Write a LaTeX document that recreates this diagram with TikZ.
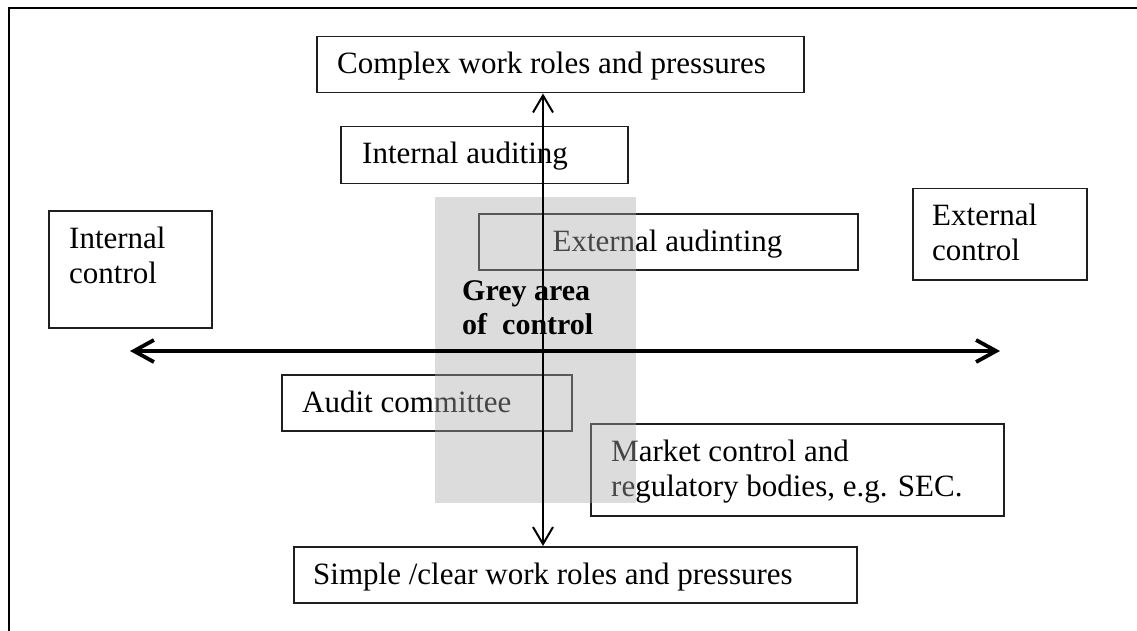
\documentclass[tikz,border=0pt]{standalone}
\usepackage{fontspec}
\setmainfont{Liberation Serif}
\usetikzlibrary{arrows.meta,calc}
\begin{document}
\begin{tikzpicture}[x=1pt,y=-1pt,
  box/.style={draw=black!88,line width=1.5pt,inner sep=0pt,anchor=north west},
  lbl/.style={inner sep=0pt,anchor=base west,align=left,
    font=\fontsize{31}{34.5}\selectfont},
  boldlbl/.style={lbl,font=\fontsize{30}{34}\selectfont\bfseries},
  greyzone/.style={fill=black!33,opacity=0.41},
  frameline/.style={line width=2.2pt},
  haxis/.style={line width=3.8pt,
    {Straight Barb[length=20pt,width=22pt]}-{Straight Barb[length=20pt,width=22pt]}},
  vaxis/.style={line width=2pt,
    {Straight Barb[length=17pt,width=20pt]}-{Straight Barb[length=17pt,width=20pt]}},
]
\useasboundingbox (0,0) rectangle (1137,631);

% page frame (top and left edges)
\draw[frameline] (9,631) -- (9,8) -- (1137,8);

% boxes
\node[box,minimum width=487pt,minimum height=56pt] (cwr) at (316,36) {};
\node[box,minimum width=287pt,minimum height=57pt] (ia)  at (340,126) {};
\node[box,minimum width=379pt,minimum height=56pt] (ea)  at (478,213) {};
\node[box,minimum width=163pt,minimum height=117pt] (ic) at (48,210) {};
\node[box,minimum width=174pt,minimum height=91pt] (ec)  at (912,188) {};
\node[box,minimum width=290pt,minimum height=56pt] (ac)  at (281,374) {};
\node[box,minimum width=413pt,minimum height=92pt] (mc)  at (590,423) {};
\node[box,minimum width=563pt,minimum height=56pt] (scw) at (293,546) {};

% box texts (two-line texts are placed by the baseline of their last line)
\node[lbl] (cwrt) at (337,74) {Complex work roles and pressures};
\node[lbl] (iat)  at (362,164) {Internal auditing};
\node[lbl,anchor=base] (eat) at (667.5,251) {External audinting};
\node[lbl] (ict)  at (69,283) {Internal\\control};
\node[lbl] (ect)  at (932,260) {External\\control};
\node[lbl] (act)  at (302,412) {Audit committee};
\node[lbl] (mct)  at (611,496) {Market control and\\regulatory bodies, e.g. SEC.};
\node[lbl] (scwt) at (313,584) {Simple /clear work roles and pressures};

% translucent grey band
\fill[greyzone] (435,197) rectangle (636,503);

% axes
\coordinate (vx) at (543,0);
\coordinate (hl) at (130,351);
\coordinate (hr) at (1000,351);
\draw[haxis] (hl) -- (hr);
\draw[vaxis] (cwr.south -| vx) -- (scw.north -| vx);

% band caption
\node[boldlbl] (gac) at (462,334) {Grey area\\of~~control};
\end{tikzpicture}
\end{document}
